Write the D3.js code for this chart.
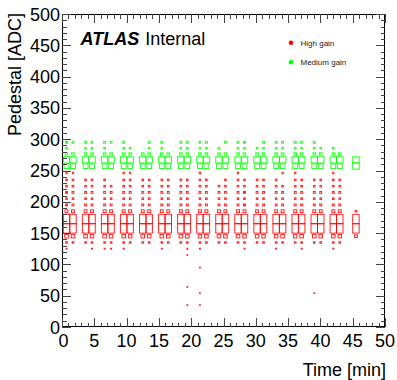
<!DOCTYPE html>
<html><head><meta charset="utf-8">
<script src="https://cdn.jsdelivr.net/npm/d3@7"></script>
<style>
html,body{margin:0;padding:0;background:#fff;}
svg{display:block;font-family:"Liberation Sans",Arial,sans-serif;}
</style></head>
<body>
<svg id="c" width="397" height="380"></svg>
<script>
// ---- data ----
const columnTimes = [0.7,1.7, 3.65,4.65, 6.6,7.6, 9.55,10.55, 12.5,13.5, 15.45,16.45, 18.4,19.4, 21.35,22.35,
  24.3,25.3, 27.25,28.25, 30.2,31.2, 33.15,34.15, 36.1,37.1, 39.05,40.05, 42.0,43.0, 45.5];
const timeBinWidth = 1.0;
const xTicks = [0,5,10,15,20,25,30,35,40,45,50];
const yTicks = [0,50,100,150,200,250,300,350,400,450,500];
const maxCount = 100;

// Medium gain (green) rows: counts per column
const mg295 = [30,30, 30,30, 30,30, 30,0, 0,30, 30,0, 30,30, 30,30, 0,30, 30,30, 0,30, 30,30, 30,30, 30,0, 0,0, 0];
const mg285 = [25,0, 25,25, 25,0, 25,25, 0,25, 25,0, 25,25, 25,25, 25,0, 25,25, 25,25, 25,25, 25,25, 25,25, 25,0, 0];
const mg276 = [40,40, 40,40, 40,40, 40,40, 40,40, 40,40, 40,40, 40,40, 40,40, 40,40, 40,40, 40,40, 40,40, 40,40, 40,40, 0];
const mg267 = [100,100, 100,100, 100,100, 100,100, 100,100, 100,100, 100,100, 100,100, 100,100, 100,100, 100,100, 100,100, 100,100, 100,100, 100,100, 100];
const mg257 = [75,75, 75,75, 75,75, 75,75, 75,75, 75,75, 75,75, 75,75, 75,75, 75,75, 75,75, 75,75, 75,75, 75,75, 75,75, 100];

// High gain (red) rows: counts per column
const hg246 = [20,20, 0,0, 0,0, 20,20, 0,0, 0,0, 0,0, 20,0, 0,0, 20,0, 0,0, 0,20, 20,0, 0,0, 20,0, 0];
const hg235 = [25,25, 25,25, 25,0, 25,25, 25,25, 25,25, 25,25, 25,25, 0,25, 25,25, 25,25, 25,0, 25,25, 25,25, 25,25, 0];
const hg225 = [25,25, 25,25, 25,25, 25,25, 25,25, 25,25, 25,25, 25,25, 25,25, 25,25, 25,25, 25,25, 25,25, 25,25, 25,25, 0];
const hg215 = [30,30, 30,30, 30,30, 30,30, 30,30, 30,30, 30,30, 30,30, 30,30, 30,30, 30,30, 30,30, 30,30, 30,30, 30,30, 0];
const hg205 = [25,25, 25,25, 25,25, 25,25, 25,25, 25,25, 25,25, 25,25, 25,25, 25,25, 25,25, 25,25, 25,25, 25,25, 25,25, 0];
const hg195 = [30,30, 30,30, 30,30, 30,30, 30,30, 30,30, 30,30, 30,30, 30,30, 30,30, 30,30, 30,30, 30,30, 30,30, 30,30, 0];
const hg185 = [45,45, 45,45, 45,45, 45,45, 45,45, 45,45, 45,45, 45,45, 45,45, 45,45, 45,45, 45,45, 45,45, 45,45, 45,45, 25];
const hg172 = [100,100, 100,100, 100,100, 100,100, 100,100, 100,100, 100,100, 100,100, 100,100, 100,100, 100,100, 100,100, 100,100, 100,100, 100,100, 100];
const hg157 = [100,100, 100,100, 100,100, 100,100, 100,100, 100,100, 100,100, 100,100, 100,100, 100,100, 100,100, 100,100, 100,100, 100,100, 100,100, 100];
const hg145 = [55,55, 55,55, 55,55, 55,55, 55,55, 55,55, 55,55, 55,55, 55,55, 55,55, 55,55, 55,55, 55,55, 55,55, 55,55, 45];
const hg135 = [25,25, 25,25, 25,25, 25,25, 25,25, 25,25, 25,25, 25,25, 25,25, 25,25, 25,25, 25,25, 25,25, 25,25, 25,25, 0];
const hg125 = [15,0, 0,15, 15,15, 15,0, 0,0, 15,0, 0,15, 15,0, 0,0, 0,15, 0,0, 15,0, 0,15, 0,0, 15,0, 0];

// isolated high-gain entries
const hgOutTime = [19.4, 19.4, 19.4, 21.35, 21.35, 21.35, 39.05];
const hgOutPed  = [115, 64, 35, 95, 54, 35, 54];
const hgOutCount = [12, 12, 12, 12, 12, 12, 12];

// pedestal bins [low, high] for each row
const mgRows = [[290,300,mg295],[281,290,mg285],[272,281,mg276],[262,272,mg267],[252,262,mg257]];
const hgRows = [[240,252,hg246],[230,240,hg235],[220,230,hg225],[210,220,hg215],[200,210,hg205],
  [190,200,hg195],[180,190,hg185],[165,180,hg172],[150,165,hg157],[140,150,hg145],[130,140,hg135],[120,130,hg125]];

// ---- drawing ----
const svg = d3.select("#c");
const L = 62, R = 385, T = 14, B = 327;
const x = d3.scaleLinear().domain([0,50]).range([L,R]);
const y = d3.scaleLinear().domain([0,500]).range([B,T]);
const size = d3.scaleLinear().domain([0,maxCount]).range([0,1]);

function boxesFrom(rows) {
  const cells = [];
  rows.forEach(([lo,hi,arr]) => {
    arr.forEach((c,i) => { if (c > 0) cells.push({t: columnTimes[i], lo, hi, c}); });
  });
  return cells;
}
function drawCells(cells, color) {
  svg.append("g").selectAll("rect").data(cells).join("rect")
    .attr("x", d => { const w = (x(d.t+timeBinWidth/2)-x(d.t-timeBinWidth/2))*size(d.c); return x(d.t)-w/2; })
    .attr("y", d => { const h = (y(d.lo)-y(d.hi))*size(d.c); return y((d.lo+d.hi)/2)-h/2; })
    .attr("width", d => (x(d.t+timeBinWidth/2)-x(d.t-timeBinWidth/2))*size(d.c))
    .attr("height", d => (y(d.lo)-y(d.hi))*size(d.c))
    .attr("fill","none").attr("stroke",color).attr("stroke-width",1).attr("stroke-opacity",0.85);
}
const hgCells = boxesFrom(hgRows);
hgOutTime.forEach((t,i) => hgCells.push({t, lo: hgOutPed[i]-5, hi: hgOutPed[i]+5, c: hgOutCount[i]}));
drawCells(hgCells, "#ff0000");
drawCells(boxesFrom(mgRows), "#00ff00");

// frame
svg.append("rect").attr("x",L+0.5).attr("y",T+0.5).attr("width",R-L-1).attr("height",B-T-1)
  .attr("fill","none").attr("stroke","#000").attr("stroke-width",1);

// ticks
const xMinor = d3.range(0,51,1).filter(v => v%5 !== 0);
const yMinor = d3.range(0,501,10).filter(v => v%50 !== 0);
const tickG = svg.append("g").attr("stroke","#444").attr("stroke-width",1).attr("shape-rendering","crispEdges");
function vt(v, len, top) {
  const xp = Math.round(x(v))+0.5;
  tickG.append("line").attr("x1",xp).attr("x2",xp)
    .attr("y1", top ? T : B).attr("y2", top ? T+len : B-len);
}
function ht(v, len, right) {
  const yp = Math.round(y(v))+0.5;
  tickG.append("line").attr("y1",yp).attr("y2",yp)
    .attr("x1", right ? R : L).attr("x2", right ? R-len : L+len);
}
xTicks.forEach(v => { vt(v,9,false); vt(v,9,true); });
xMinor.forEach(v => { vt(v,4.5,false); vt(v,4.5,true); });
yTicks.forEach(v => { ht(v,9,false); ht(v,9,true); });
yMinor.forEach(v => { ht(v,4.5,false); ht(v,4.5,true); });

// tick labels
svg.append("g").attr("font-size",18).attr("text-anchor","middle").selectAll("text")
  .data(xTicks).join("text").attr("x", d => x(d) + (d === 0 ? 1.5 : 0)).attr("y", B+19.5).text(d => d);
svg.append("g").attr("font-size",18).attr("text-anchor","end").selectAll("text")
  .data(yTicks).join("text").attr("x", L-2).attr("y", d => y(d)+6.5).text(d => d);

// axis titles
svg.append("text").attr("font-size",18).attr("text-anchor","end")
  .attr("x", R+1).attr("y", 376).text("Time [min]");
svg.append("text").attr("font-size",18).attr("text-anchor","end")
  .attr("transform","translate(21,13) rotate(-90)").text("Pedestal [ADC]");

// ATLAS label
const lab = svg.append("text").attr("x",80.5).attr("y",45).attr("font-size",18);
lab.append("tspan").attr("font-weight","bold").attr("font-style","italic").text("ATLAS");
lab.append("tspan").attr("dx",6).text("Internal");

// legend
const legend = [["High gain","#ff0000"],["Medium gain","#00ff00"]];
const lg = svg.append("g");
legend.forEach(([name,col],i) => {
  lg.append("circle").attr("cx",291).attr("cy",42.7+i*19.6).attr("r",2.3).attr("fill",col);
  lg.append("text").attr("x",300.5).attr("y",45.6+i*19.6).attr("font-size",8).attr("fill","#222").text(name);
});
</script>
</body></html>
